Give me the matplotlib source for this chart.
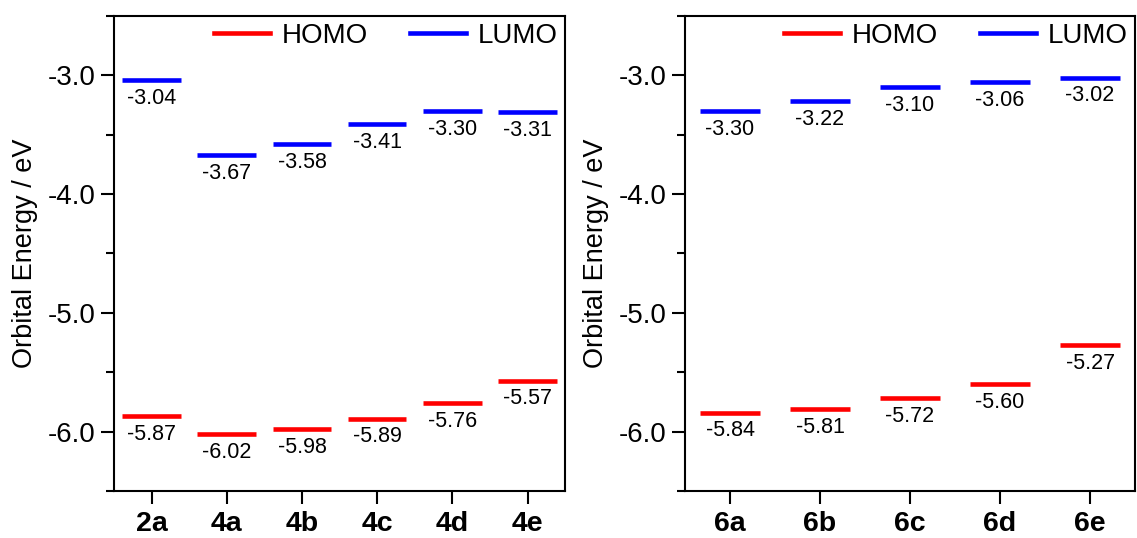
import numpy as np
import matplotlib
matplotlib.use('Agg')
import matplotlib.pyplot as plt
from matplotlib.lines import Line2D
from matplotlib.ticker import MultipleLocator, FormatStrFormatter

plt.rcParams['font.family'] = ['Liberation Sans', 'DejaVu Sans']

# orbital energies (eV)
left_cats = ['2a', '4a', '4b', '4c', '4d', '4e']
left_homo = [-5.87, -6.02, -5.98, -5.89, -5.76, -5.57]
left_lumo = [-3.04, -3.67, -3.58, -3.41, -3.30, -3.31]

right_cats = ['6a', '6b', '6c', '6d', '6e']
right_homo = [-5.84, -5.81, -5.72, -5.60, -5.27]
right_lumo = [-3.30, -3.22, -3.10, -3.06, -3.02]

HOMO_C = '#ff0000'
LUMO_C = '#0000ff'


def level_panel(ax, cats, homo, lumo, half):
    x = np.arange(len(cats))
    for vals, c in ((homo, HOMO_C), (lumo, LUMO_C)):
        ax.hlines(vals, x - half, x + half, colors=c, lw=3.3)
        for xi, v in zip(x, vals):
            ax.annotate(f'{v:.2f}', (xi, v), xytext=(0, -5.5),
                        textcoords='offset points', ha='center', va='top',
                        fontsize=15.5)
    ax.set_xlim(-0.5, len(cats) - 0.5)
    ax.set_ylim(-6.5, -2.5)
    ax.set_xticks(x)
    ax.set_xticklabels(cats, fontsize=20.5, fontweight='bold')
    ax.yaxis.set_major_locator(MultipleLocator(1.0))
    ax.yaxis.set_minor_locator(MultipleLocator(0.5))
    ax.yaxis.set_major_formatter(FormatStrFormatter('%.1f'))
    ax.tick_params(axis='y', labelsize=20)
    ax.tick_params(which='major', direction='out', length=9.5, width=1.5, pad=4)
    ax.tick_params(which='minor', direction='out', length=6, width=1.5)
    ax.tick_params(axis='x', pad=5)
    for s in ax.spines.values():
        s.set_linewidth(1.5)
    ax.set_ylabel('Orbital Energy / eV', fontsize=19.5, labelpad=7)
    handles = [Line2D([], [], color=HOMO_C, lw=3.3),
               Line2D([], [], color=LUMO_C, lw=3.3)]
    ax.legend(handles, ['HOMO', 'LUMO'], loc='upper right', ncol=2,
              frameon=False, fontsize=20, handlelength=2.0,
              handletextpad=0.45, columnspacing=1.5,
              borderaxespad=0.1, borderpad=0.15)


fig = plt.figure(figsize=(11.37, 5.38), dpi=100)
ax1 = fig.add_axes([0.1003, 0.0874, 0.3967, 0.883])
ax2 = fig.add_axes([0.6025, 0.0874, 0.3958, 0.883])

level_panel(ax1, left_cats, left_homo, left_lumo, 0.39)
level_panel(ax2, right_cats, right_homo, right_lumo, 0.33)

fig.savefig('out.png', dpi=100)
